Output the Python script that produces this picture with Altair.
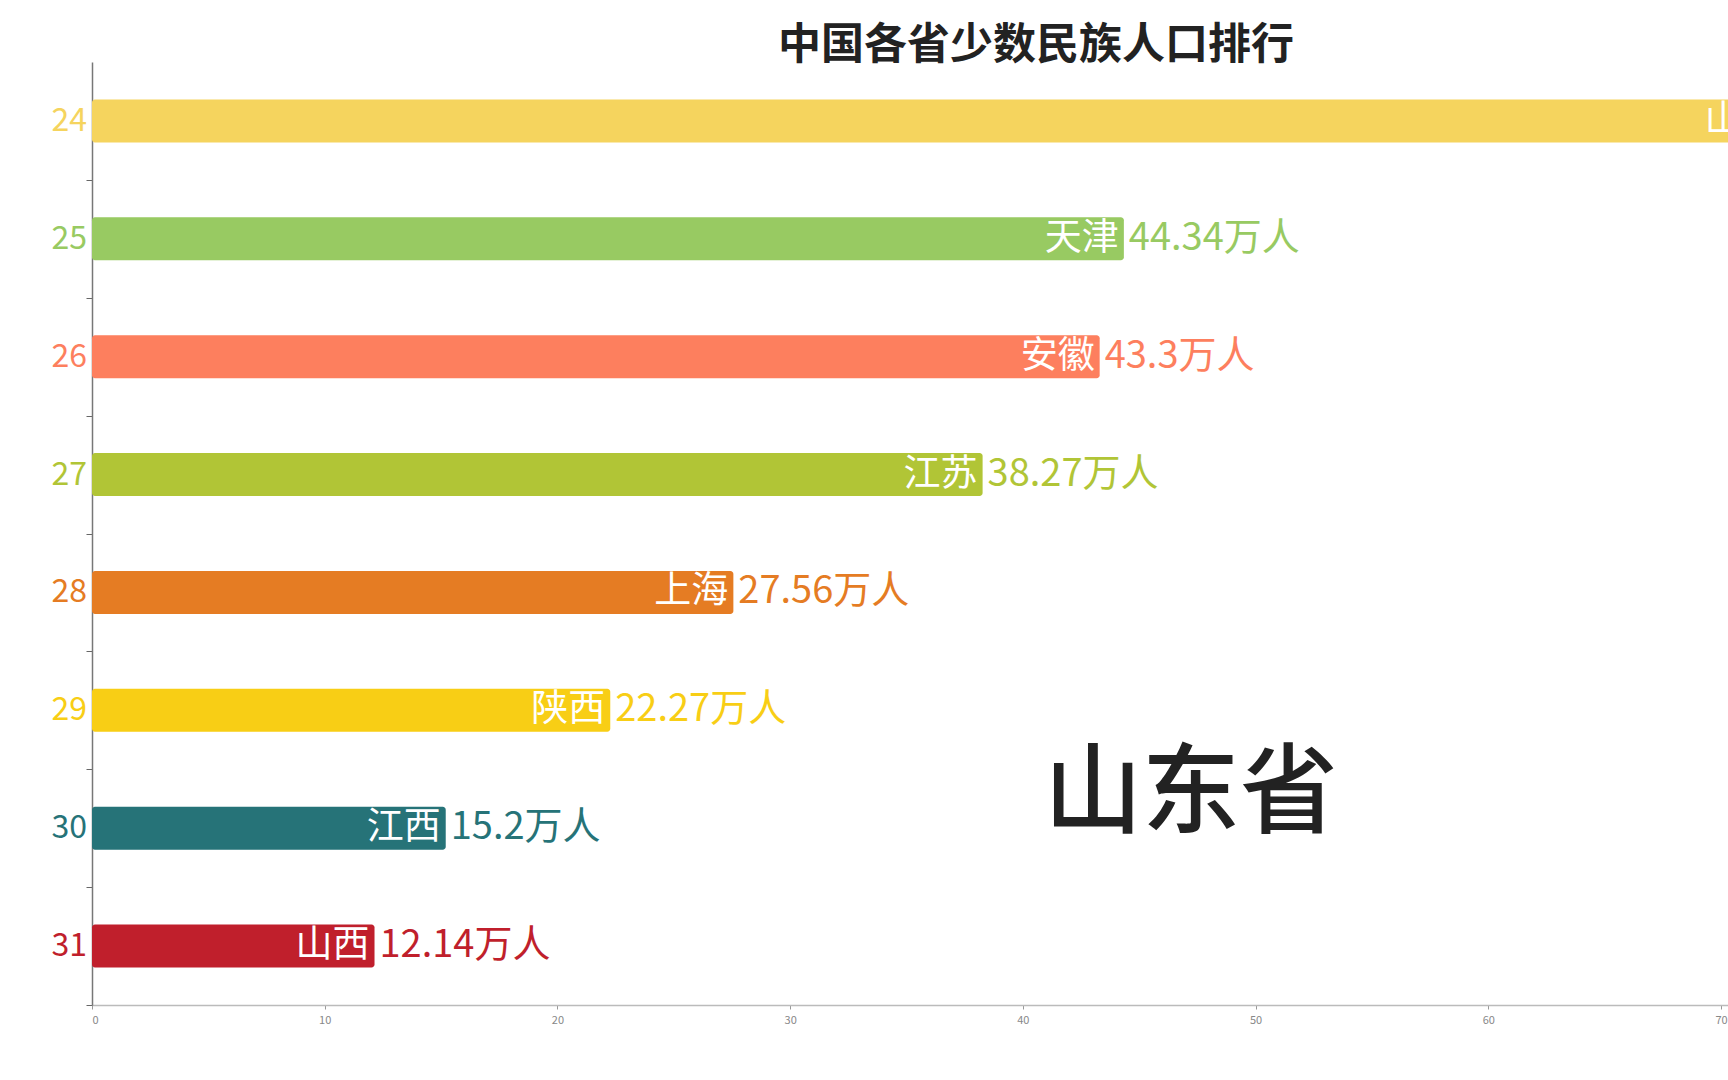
import altair as alt
import pandas as pd

# ---- data ----
ranks = [24, 25, 26, 27, 28, 29, 30, 31]
provinces = ["山东", "天津", "安徽", "江苏", "上海", "陕西", "江西", "山西"]
values = [72.7, 44.34, 43.3, 38.27, 27.56, 22.27, 15.2, 12.14]
colors = ["#F5D45E", "#98CA62", "#FD7F5E", "#B1C536", "#E57C23", "#F8CE15", "#267378", "#C01F2C"]
x_ticks = [0, 10, 20, 30, 40, 50, 60, 70]
title_text = "中国各省少数民族人口排行"
current_label = "山东省"

df = pd.DataFrame({
    "rank": ranks,
    "province": provinces,
    "value": values,
    "label": [f"{v:g}万人" for v in values],
})

FONT = "Noto Sans CJK SC"
W, H = 1636, 943
STEP = H / len(ranks)

color_scale = alt.Scale(domain=provinces, range=colors)
x_scale = alt.Scale(domain=[0, 70.3], nice=False, zero=True)
y_scale = alt.Scale(paddingInner=0.636, paddingOuter=0.318)

base = alt.Chart(df)

x_enc = alt.X(
    "value:Q",
    scale=x_scale,
    stack=None,
    axis=alt.Axis(
        values=x_ticks, title=None, grid=False,
        labelFontSize=11, labelColor="#888888", labelFont=FONT,
        tickSize=4, tickColor="#999999", domainColor="#bbbbbb", domainWidth=1.5,
        labelPadding=5,
    ),
)
y_enc = alt.Y(
    "rank:O",
    scale=y_scale,
    axis=alt.Axis(
        title=None, labels=False, tickBand="center", tickOffset=STEP / 2,
        tickSize=6, tickColor="#666666", domainColor="#777777", domainWidth=1.5,
    ),
)

bars = base.mark_bar(cornerRadius=3).encode(
    x=x_enc,
    y=y_enc,
    color=alt.Color("province:N", scale=color_scale, legend=None),
)

names = base.mark_text(
    align="right", baseline="middle", dx=-5, color="white",
    fontSize=37, font=FONT, clip=True,
).encode(x="value:Q", y="rank:O", text="province:N")

vals = base.mark_text(
    align="left", baseline="middle", dx=5, fontSize=38, font=FONT, clip=True,
).encode(
    x="value:Q",
    y="rank:O",
    text="label:N",
    color=alt.Color("province:N", scale=color_scale, legend=None),
)

rank_lbl = base.mark_text(
    align="right", baseline="middle", fontSize=32, font=FONT,
).encode(
    x=alt.value(-5),
    y="rank:O",
    text="rank:O",
    color=alt.Color("province:N", scale=color_scale, legend=None),
)

title = alt.Chart(pd.DataFrame({"t": [title_text]})).mark_text(
    align="center", baseline="middle", fontSize=43, fontWeight="bold",
    font=FONT, color="#222222",
).encode(x=alt.value(944), y=alt.value(-16), text="t:N")

big = alt.Chart(pd.DataFrame({"t": [current_label]})).mark_text(
    align="center", baseline="middle", fontSize=98, fontWeight=500,
    font=FONT, color="#222222",
).encode(x=alt.value(1099), y=alt.value(734), text="t:N")

chart = alt.layer(bars, names, vals, rank_lbl, title, big).properties(
    width=W,
    height=H,
    padding={"left": 92, "top": 62, "right": 0, "bottom": 75},
    autosize=alt.AutoSizeParams(type="none"),
    background="white",
).configure_view(stroke=None)

chart.save("out.html", embed_options={"renderer": "svg", "actions": False})
